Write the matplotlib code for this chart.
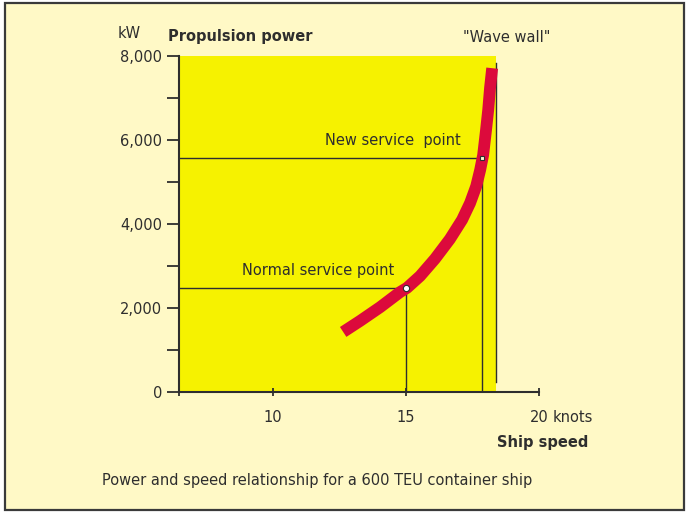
import matplotlib.pyplot as plt
from matplotlib.patches import Rectangle
from matplotlib.ticker import FixedLocator

# propulsion power curve (knots, kW)
speed = [12.64, 13.27, 14.03, 14.78, 15.04, 15.53, 16.09, 16.65, 17.11, 17.41,
         17.64, 17.79, 17.90, 18.01, 18.09, 18.16, 18.24]
power = [1430, 1690, 2020, 2380, 2480, 2760, 3170, 3640, 4100, 4500,
         4900, 5290, 5640, 6240, 6710, 7240, 7710]

normal_pt = (15.0, 2480)
new_pt = (17.86, 5570)
wave_wall = 18.37

x_ticks = [10, 15, 20]
x_labels = ['10', '15', '20']
y_ticks = [0, 2000, 4000, 6000, 8000]
y_labels = ['0', '2,000', '4,000', '6,000', '8,000']

cream = '#fff9c6'
yellow = '#f6f200'
red = '#dc0a3c'
ink = '#2e2e2e'

plt.rcParams['font.family'] = 'DejaVu Sans'

W, H = 691, 513
fig = plt.figure(figsize=(W / 100, H / 100), dpi=100)
fig.patch.set_facecolor('white')
fig.add_artist(Rectangle((5 / W, 1 - 510 / H), 679 / W, 507 / H, transform=fig.transFigure,
                         facecolor=cream, edgecolor='#3a3a3a', lw=1.6, zorder=-5))

def ftext(px, py, s, **kw):
    fig.text(px / W, 1 - py / H, s, color=ink, va='center', **kw)

ax = fig.add_axes([179 / W, 1 - 392 / H, 360 / W, 336 / H])
ax.set_facecolor('none')
x0 = 6.47
ax.set_xlim(x0, 20)
ax.set_ylim(0, 8000)
ax.axvspan(x0, 18.4, color=yellow, zorder=0, lw=0)

for s in ['top', 'right']:
    ax.spines[s].set_visible(False)
for s in ['left', 'bottom']:
    ax.spines[s].set_linewidth(1.5)
    ax.spines[s].set_color(ink)

ax.set_xticks([x0] + x_ticks)
ax.set_xticklabels([''] + x_labels)
ax.tick_params(axis='x', direction='inout', length=6, width=1.3, color=ink,
               labelsize=10.5, labelcolor=ink, pad=10)
ax.set_yticks(y_ticks)
ax.set_yticklabels(y_labels)
ax.yaxis.set_minor_locator(FixedLocator([1000, 3000, 5000, 7000]))
ax.tick_params(axis='y', which='both', direction='out', length=8.5, width=1.3, color=ink,
               labelsize=10.5, labelcolor=ink, pad=3.5)

# reference lines to the two service points
for px, py in [normal_pt, new_pt]:
    ax.plot([x0, px], [py, py], color=ink, lw=1.0, zorder=2)
    ax.plot([px, px], [0, py], color=ink, lw=1.0, zorder=2)
ax.plot([wave_wall, wave_wall], [250, 7830], color=ink, lw=1.0, zorder=2)

ax.plot(speed, power, color=red, lw=8.5, solid_capstyle='butt', solid_joinstyle='round', zorder=3)
ax.plot(*normal_pt, 'o', ms=4.5, mfc='white', mec=ink, mew=0.8, zorder=4)
ax.plot(*new_pt, 's', ms=3.5, mfc='#fffbd0', mec=ink, mew=0.8, zorder=4)

ax.annotate('knots', xy=(20, 0), xycoords='data', xytext=(10, -18.5), textcoords='offset points',
            ha='left', va='center', fontsize=10.5, color=ink)

ftext(118, 34, 'kW', fontsize=10.5)
ftext(168, 36, 'Propulsion power', fontsize=10.5, fontweight='bold')
ftext(463, 37, '"Wave wall"', fontsize=10.5)
ftext(325, 141, 'New service  point', fontsize=10.5)
ftext(242, 270, 'Normal service point', fontsize=10.5)
ftext(497, 443, 'Ship speed', fontsize=10.5, fontweight='bold')
ftext(102, 480, 'Power and speed relationship for a 600 TEU container ship', fontsize=10.5)

fig.savefig('out.png', dpi=100, facecolor=fig.get_facecolor())
